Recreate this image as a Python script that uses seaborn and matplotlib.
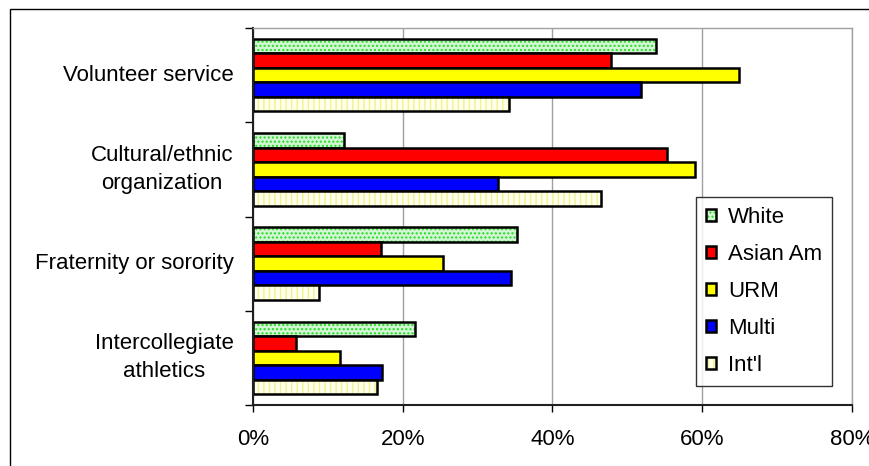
import matplotlib
matplotlib.use("Agg")
import matplotlib.pyplot as plt
import matplotlib.colors as mcolors
from matplotlib.patches import Rectangle
import seaborn as sns
import pandas as pd

activities = ["Volunteer service", "Cultural/ethnic\norganization",
              "Fraternity or sorority", "Intercollegiate\nathletics"]
groups = ["White", "Asian Am", "URM", "Multi", "Int'l"]
white = [53.8, 12.1, 35.2, 21.6]
asian_am = [47.8, 55.3, 17.1, 5.8]
urm = [64.9, 59.0, 25.4, 11.6]
multi = [51.8, 32.7, 34.5, 17.2]
intl = [34.2, 46.5, 8.8, 16.6]
x_ticks = [0, 20, 40, 60, 80]
x_tick_labels = ["0%", "20%", "40%", "60%", "80%"]

series = [white, asian_am, urm, multi, intl]
rows = []
for g, vals in zip(groups, series):
    for a, v in zip(activities, vals):
        rows.append({"activity": a, "group": g, "value": v})
df = pd.DataFrame(rows)

face_colors = ["#d4f6d4", "#ff0000", "#ffff00", "#0000ff", "#fffff0"]
hatches = ["....", None, None, None, "|||"]
hatch_colors = ["#22dd22", None, None, None, "#f2f28a"]

sns.set_style("white")
plt.rcParams["font.family"] = ["Liberation Sans", "DejaVu Sans"]
plt.rcParams["hatch.linewidth"] = 1.0
plt.rcParams["text.color"] = "black"
plt.rcParams["xtick.color"] = "black"
plt.rcParams["ytick.color"] = "black"

fig = plt.figure(figsize=(8.7, 4.66), dpi=100)
ax = fig.add_axes([253 / 870, 1 - 405 / 466, (852 - 253) / 870, (405 - 28) / 466])

sns.barplot(data=df, x="value", y="activity", hue="group", order=activities,
            hue_order=groups, palette=face_colors, orient="h", width=0.77,
            edgecolor="black", linewidth=1.8, saturation=1, ax=ax, legend=True)

for cont, h, hc in zip(ax.containers, hatches, hatch_colors):
    for p in cont:
        if h:
            p.set_hatch(h)
            p._hatch_color = mcolors.to_rgba(hc)

ax.set_xlim(0, 80)
ax.set_xticks(x_ticks)
ax.set_xticklabels(x_tick_labels, fontsize=16, color="black")
ax.set_ylim(3.5, -0.5)
ax.set_yticks(range(len(activities)))
ax.set_yticklabels(activities, fontsize=16, multialignment="center",
                   linespacing=1.45, color="black", va="center")
ax.set_yticks([i - 0.5 for i in range(len(activities) + 1)], minor=True)
ax.tick_params(axis="y", which="major", length=0, pad=14)
ax.tick_params(axis="y", which="minor", length=6, width=1, color="black", left=True)
ax.tick_params(axis="x", which="major", length=5, width=1, color="black", bottom=True, pad=12)
ax.set_xlabel("")
ax.set_ylabel("")

ax.grid(axis="x", color="#a0a0a0", linewidth=1)
ax.set_axisbelow(True)
for s in ["left", "bottom"]:
    ax.spines[s].set_color("#202020")
    ax.spines[s].set_linewidth(1.5)
for s in ["top", "right"]:
    ax.spines[s].set_color("#a0a0a0")
    ax.spines[s].set_linewidth(1)

handles, labels = ax.get_legend_handles_labels()
leg = ax.legend(handles, labels, loc="upper left", bbox_to_anchor=(0.7396, 0.552),
                borderaxespad=0, frameon=True, fancybox=False, fontsize=16,
                handlelength=0.45, handleheight=0.45, handletextpad=0.55,
                labelspacing=0.72, borderpad=0.45, title=None)
leg.get_frame().set_edgecolor("black")
leg.get_frame().set_linewidth(1)
for lh, h, hc in zip(leg.legend_handles, hatches, hatch_colors):
    lh.set_linewidth(1.8)
    if h:
        lh.set_hatch(h)
        lh._hatch_color = mcolors.to_rgba(hc)
for t in leg.get_texts():
    t.set_color("black")

fig.add_artist(Rectangle((10 / 870, -0.2), 1.2, 0.2 + 1 - 9 / 466,
                         transform=fig.transFigure, fill=False,
                         edgecolor="black", linewidth=1))

fig.savefig("out.png", dpi=100)
